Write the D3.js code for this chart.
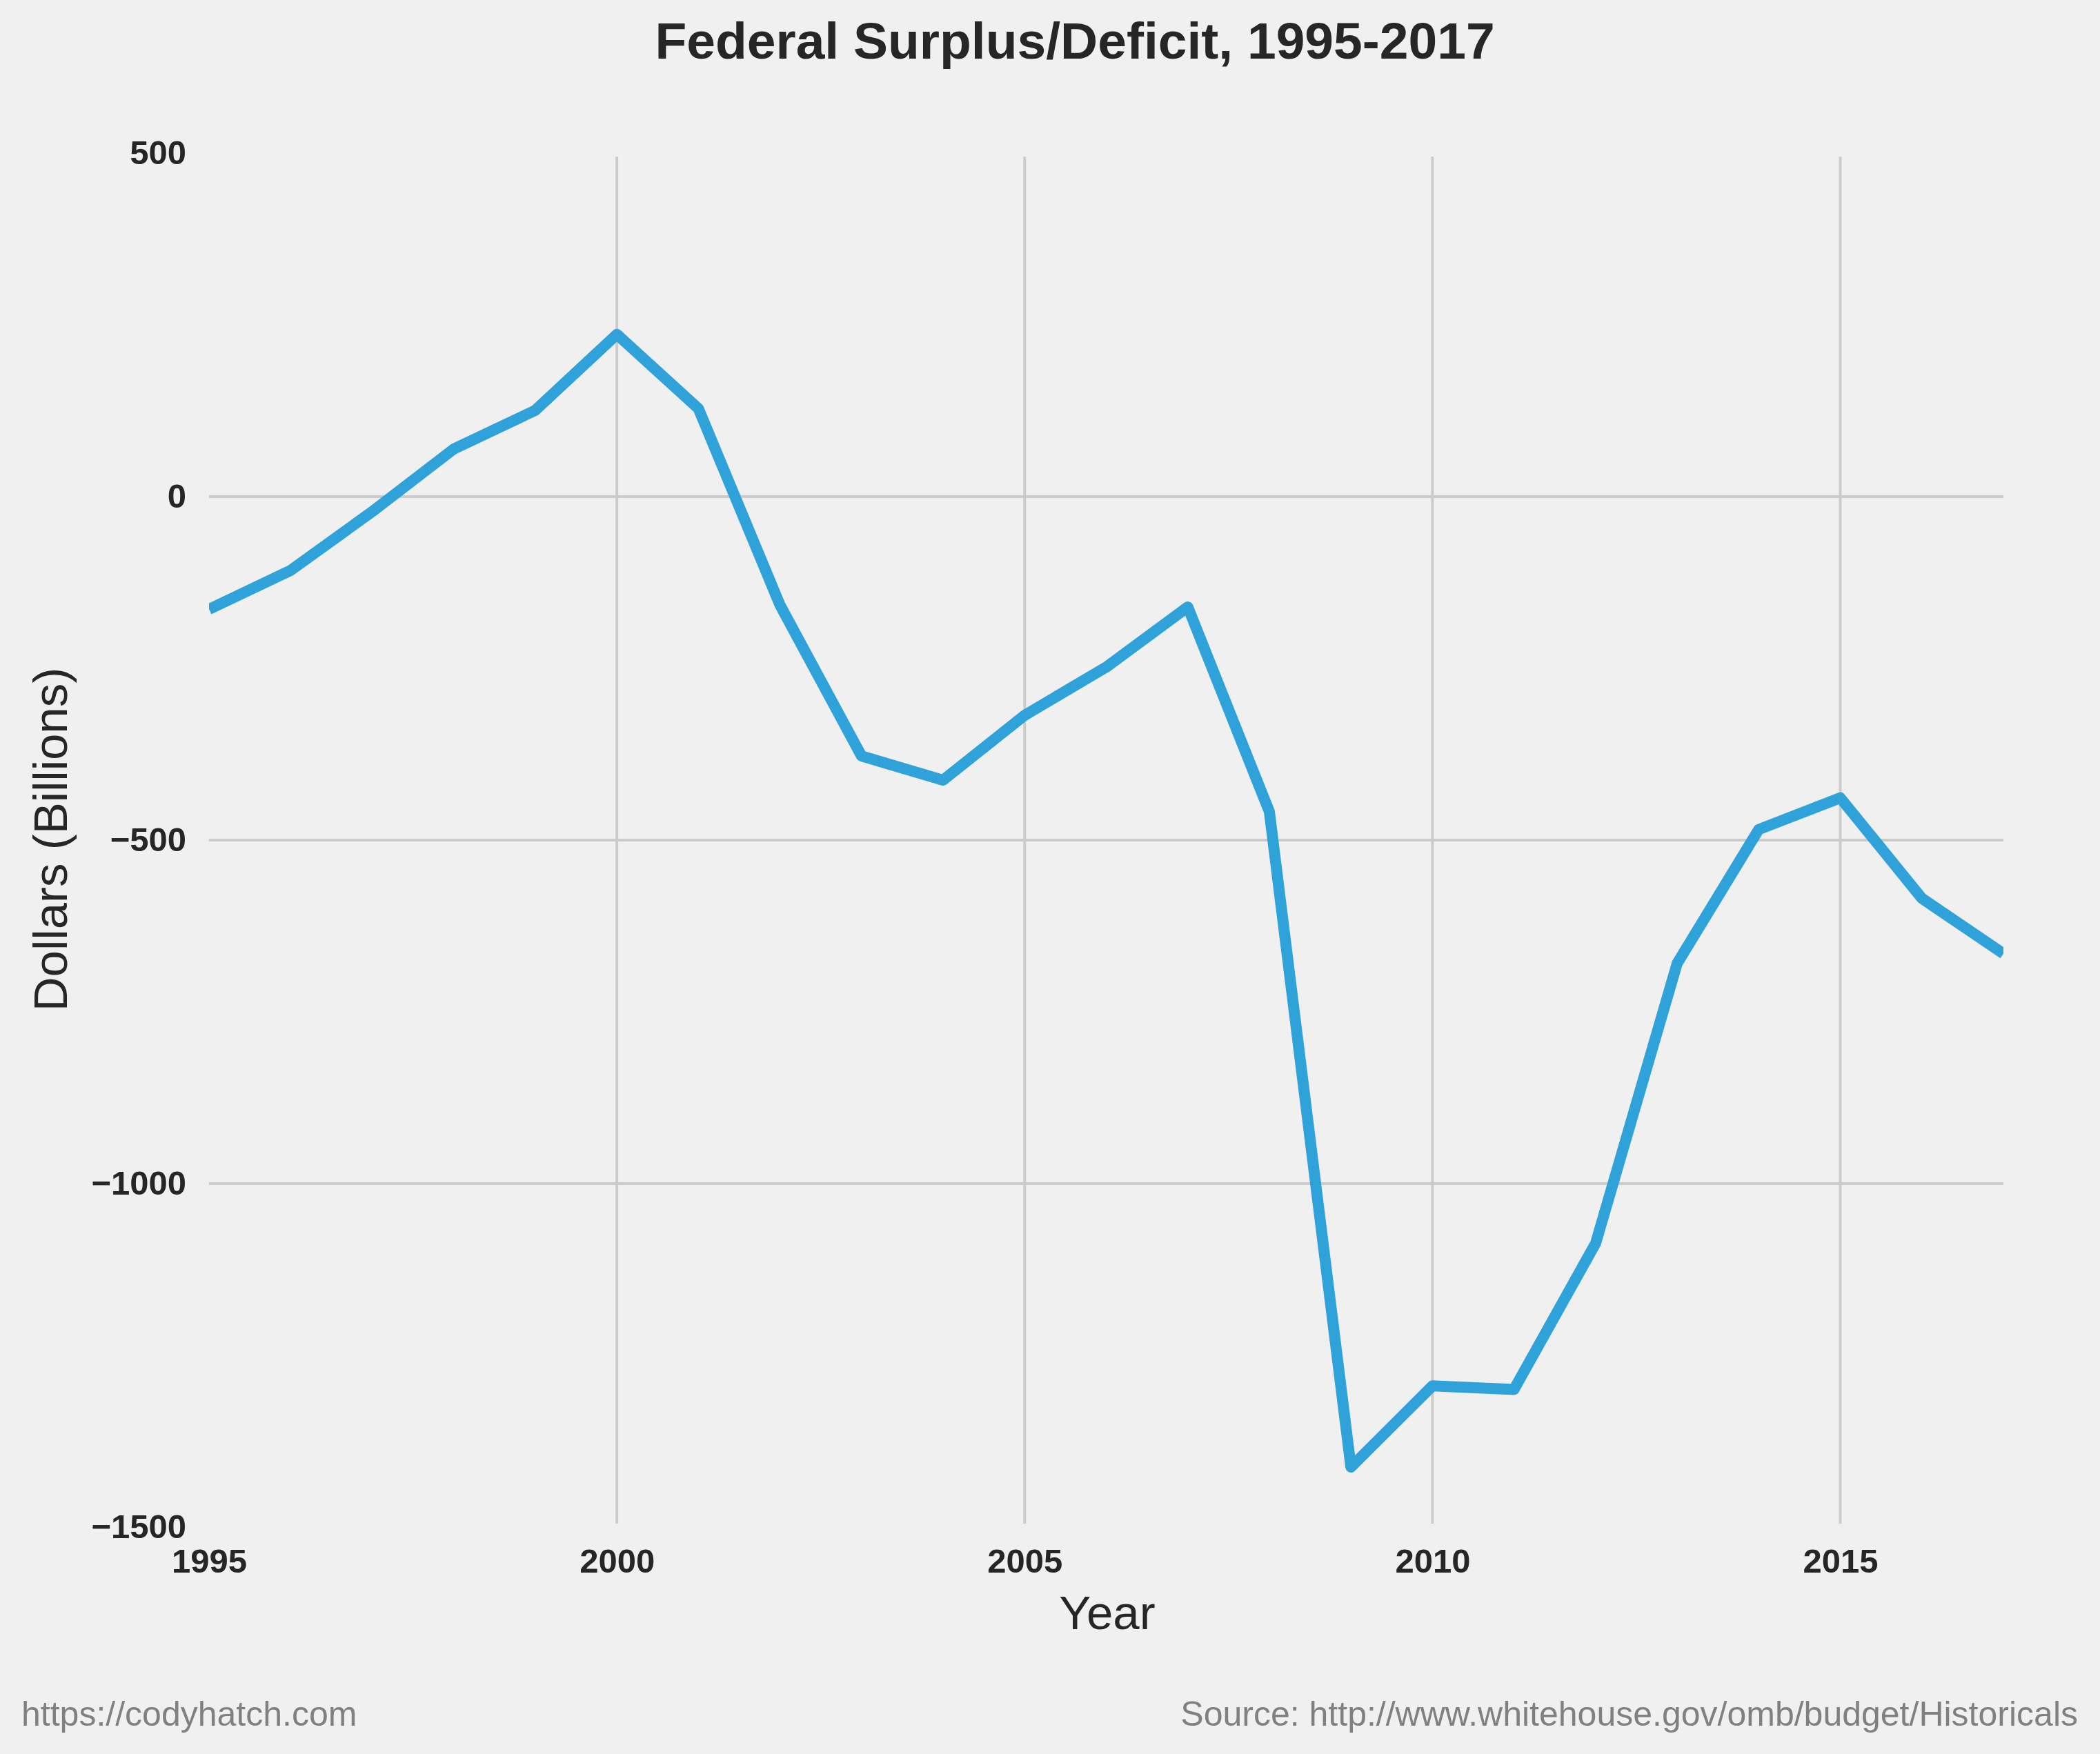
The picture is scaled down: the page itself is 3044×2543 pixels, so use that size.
<!DOCTYPE html>
<html>
<head>
<meta charset="utf-8">
<script src="https://cdn.jsdelivr.net/npm/d3@7"></script>
<style>
  html, body { margin: 0; padding: 0; background: #f0f0f0; }
  svg { display: block; }
  text { font-family: "Liberation Sans", Arial, sans-serif; }
</style>
</head>
<body>
<script>
// ---- Data ----
const years = [1995,1996,1997,1998,1999,2000,2001,2002,2003,2004,2005,2006,2007,2008,2009,2010,2011,2012,2013,2014,2015,2016,2017];
const surplus = [-164.0,-107.4,-21.9,69.3,125.6,236.2,128.2,-157.8,-377.6,-412.7,-318.3,-248.2,-160.7,-458.6,-1412.7,-1294.4,-1299.6,-1087.0,-679.5,-484.6,-438.5,-584.7,-665.4];
const xTicks = [1995, 2000, 2005, 2010, 2015];
const yTicks = [500, 0, -500, -1000, -1500];
const titleText = "Federal Surplus/Deficit, 1995-2017";
const xLabel = "Year";
const yLabel = "Dollars (Billions)";
const leftNote = "https://codyhatch.com";
const rightNote = "Source: http://www.whitehouse.gov/omb/budget/Historicals";

// ---- Layout ----
const W = 3044, H = 2543;
const plot = { left: 303, right: 2904, top: 222, bottom: 2214 };

const svg = d3.select("body").append("svg")
  .attr("width", W).attr("height", H)
  .attr("viewBox", `0 0 ${W} ${H}`);

svg.append("rect").attr("width", W).attr("height", H).attr("fill", "#f0f0f0");

const x = d3.scaleLinear().domain([1995, 2017]).range([plot.left, plot.right]);
const y = d3.scaleLinear().domain([500, -1500]).range([plot.top, plot.bottom]);

// clip
svg.append("defs").append("clipPath").attr("id", "clip")
  .append("rect")
  .attr("x", plot.left).attr("y", plot.top)
  .attr("width", plot.right - plot.left).attr("height", plot.bottom - plot.top);

// gridlines
const grid = svg.append("g");
grid.selectAll("line.v").data(xTicks.filter(t => t > 1995 && t < 2017)).enter()
  .append("line").attr("class", "v")
  .attr("x1", d => x(d)).attr("x2", d => x(d))
  .attr("y1", plot.top + 5).attr("y2", plot.bottom - 5)
  .attr("stroke", "#cbcbcb").attr("stroke-width", 4);
grid.selectAll("line.h").data(yTicks.filter(t => t < 500 && t > -1500)).enter()
  .append("line").attr("class", "h")
  .attr("x1", plot.left).attr("x2", plot.right)
  .attr("y1", d => y(d)).attr("y2", d => y(d))
  .attr("stroke", "#cbcbcb").attr("stroke-width", 4);

// axes (labels only, no domain/ticks)
const fmt = d3.format("d");
const yAxis = d3.axisLeft(y).tickValues(yTicks).tickSize(0).tickPadding(0).tickFormat(d => fmt(d));
const gy = svg.append("g").attr("transform", `translate(${plot.left - 33},0)`).call(yAxis);
gy.select(".domain").remove();
gy.selectAll("text")
  .attr("font-family", '"Liberation Sans", Arial, sans-serif')
  .attr("font-size", 49).attr("font-weight", "bold").attr("fill", "#262626")
  .attr("dy", "0.32em");

const xAxis = d3.axisBottom(x).tickValues(xTicks).tickSize(0).tickPadding(0).tickFormat(d => String(d));
const gx = svg.append("g").attr("transform", `translate(0,${plot.bottom})`).call(xAxis);
gx.select(".domain").remove();
gx.selectAll("text")
  .attr("font-family", '"Liberation Sans", Arial, sans-serif')
  .attr("font-size", 49).attr("font-weight", "bold").attr("fill", "#262626")
  .attr("dy", null).attr("y", 66);

// line
const line = d3.line().x((d, i) => x(years[i])).y(d => y(d));
svg.append("path")
  .datum(surplus)
  .attr("clip-path", "url(#clip)")
  .attr("d", line)
  .attr("fill", "none")
  .attr("stroke", "#30a2da")
  .attr("stroke-width", 16)
  .attr("stroke-linejoin", "round")
  .attr("stroke-linecap", "butt");

// title
svg.append("text").attr("x", 1558).attr("y", 85)
  .attr("text-anchor", "middle").attr("font-size", 75).attr("font-weight", "bold")
  .attr("fill", "#262626").text(titleText);

// axis labels
svg.append("text").attr("x", 1605).attr("y", 2362)
  .attr("text-anchor", "middle").attr("font-size", 69).attr("fill", "#262626").text(xLabel);
svg.append("text").attr("transform", `translate(97,1217) rotate(-90)`)
  .attr("text-anchor", "middle").attr("font-size", 69).attr("fill", "#262626").text(yLabel);

// notes
svg.append("text").attr("x", 31).attr("y", 2502)
  .attr("font-size", 50).attr("fill", "#808080").text(leftNote);
svg.append("text").attr("x", 3012).attr("y", 2502).attr("text-anchor", "end")
  .attr("font-size", 50).attr("fill", "#808080").text(rightNote);
</script>
</body>
</html>
